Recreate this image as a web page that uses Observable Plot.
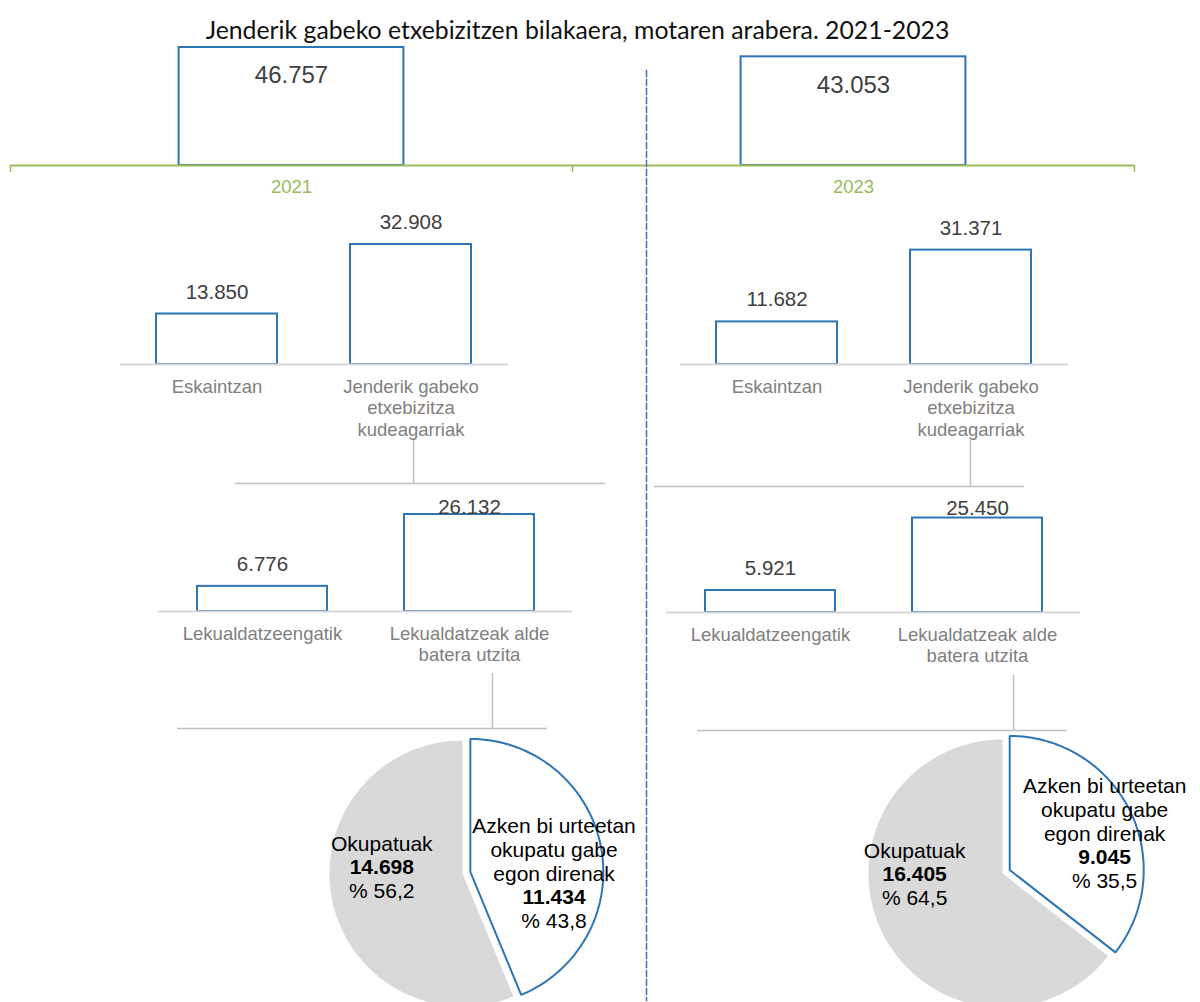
<!DOCTYPE html>
<html><head><meta charset="utf-8">
<script src="https://cdn.jsdelivr.net/npm/d3@7"></script>
<script src="https://cdn.jsdelivr.net/npm/@observablehq/plot@0.6"></script>
<style>
body{margin:0;background:#fff}
#page{position:relative;width:1200px;height:1002px;overflow:hidden;background:#fff;font-family:"Liberation Sans",Arial,sans-serif}
#page svg{position:absolute;left:0;top:0;overflow:visible;pointer-events:none}
#title{position:absolute;top:15px;left:0;width:1155px;text-align:center;font-family:Lato,sans-serif;font-size:24.8px;color:#111;white-space:nowrap;line-height:30px}
</style></head><body>
<div id="page"><div id="title">Jenderik gabeko etxebizitzen bilakaera, motaren arabera. 2021-2023</div></div>
<script>
// ---------- data ----------
const years = ["2021", "2023"];
const totals = [46757, 43053];
const level1Cats = ["Eskaintzan", "Jenderik gabeko\netxebizitza\nkudeagarriak"];
const level1_2021 = [13850, 32908];
const level1_2023 = [11682, 31371];
const level2Cats = ["Lekualdatzeengatik", "Lekualdatzeak alde\nbatera utzita"];
const level2_2021 = [6776, 26132];
const level2_2023 = [5921, 25450];
const pieCats = ["Azken bi urteetan\nokupatu gabe\negon direnak", "Okupatuak"];
const pie_2021 = [11434, 14698];
const pie_2023 = [9045, 16405];

// ---------- style ----------
const W = 1200, H = 1002;
const BLUE = "#2e75b6", GREEN = "#9bbb59", AXISGRAY = "#d9d9d9", LINKGRAY = "#bfbfbf";
const LABELGRAY = "#808080", VALUE = "#404040";
const loc = d3.formatLocale({decimal: ",", thousands: ".", grouping: [3], currency: ["", ""]});
const fmt = loc.format(",d");
const fmtPct = loc.format(".1f");
const page = document.getElementById("page");

function layer(opts) {
  const svg = Plot.plot({
    width: W, height: opts.height ?? H,
    style: {background: "transparent", overflow: "visible", fontFamily: "'Liberation Sans', Arial, sans-serif"},
    ...opts
  });
  page.appendChild(svg);
  return svg;
}

// ---------- top level: totals ----------
{
  const data = years.map((year, i) => ({year, i, value: totals[i]}));
  const base = 165, ppu = 118 / 46757, yTop = 50000;
  layer({
    marginLeft: 10, marginRight: W - 1134, marginBottom: H - base, marginTop: base - yTop * ppu,
    x: {type: "linear", domain: [0, years.length]},
    y: {domain: [0, yTop], axis: null},
    marks: [
      Plot.rectY(data, {x1: d => d.i + 0.3, x2: d => d.i + 0.7, y: "value", fill: "white", stroke: BLUE, strokeWidth: 2}),
      Plot.text(data, {x: d => d.i + 0.5, y: "value", text: d => fmt(d.value), dy: 28, fontSize: 24, fill: VALUE}),
      Plot.ruleY([0], {stroke: GREEN, strokeWidth: 2}),
      Plot.axisX({ticks: d3.range(years.length + 1), tickFormat: () => "", tickSize: 7, stroke: GREEN, strokeWidth: 1.5, label: null}),
      Plot.text(data, {x: d => d.i + 0.5, y: 0, text: "year", dy: 22, fontSize: 18.5, fill: GREEN})
    ]
  });
}

// ---------- bar panels ----------
function barPanel({cats, values, x0, x1, base, ppu, yTop, padding}) {
  const data = cats.map((cat, i) => ({cat, value: values[i]}));
  const off = 22 / ppu;
  layer({
    marginLeft: x0, marginRight: W - x1, marginBottom: H - base, marginTop: base - yTop * ppu,
    x: {type: "band", domain: cats, paddingInner: padding, paddingOuter: padding / 2, axis: null},
    y: {domain: [0, yTop], axis: null},
    marks: [
      Plot.barY(data, {x: "cat", y: "value", fill: "white", stroke: BLUE, strokeWidth: 2}),
      Plot.ruleY([0], {stroke: AXISGRAY, strokeWidth: 2}),
      Plot.text(data, {x: "cat", y: d => Math.min(d.value + off, yTop), text: d => fmt(d.value), fontSize: 20.5, fill: VALUE}),
      Plot.text(data, {x: "cat", y: 0, text: "cat", lineAnchor: "top", dy: 13, fontSize: 18.5, lineHeight: 1.16, fill: LABELGRAY})
    ]
  });
}
barPanel({cats: level1Cats, values: level1_2021, x0: 120, x1: 508, base: 364, ppu: 120 / 32908, yTop: 40000, padding: 0.376});
barPanel({cats: level1Cats, values: level1_2023, x0: 680, x1: 1068, base: 364, ppu: 120 / 32908, yTop: 40000, padding: 0.376});
barPanel({cats: level2Cats, values: level2_2021, x0: 158, x1: 572, base: 611, ppu: 97 / 26132, yTop: 28000, padding: 0.372});
barPanel({cats: level2Cats, values: level2_2023, x0: 666, x1: 1080, base: 612, ppu: 97 / 26132, yTop: 28000, padding: 0.372});

// ---------- connectors (layout decoration, page coordinates) ----------
{
  const vLinks = [{x: 413, y1: 440, y2: 483}, {x: 492, y1: 673, y2: 728}, {x: 970, y1: 440, y2: 486}, {x: 1013, y1: 675, y2: 730}];
  const hLinks = [{y: 483, x1: 235, x2: 605}, {y: 728, x1: 177, x2: 547}, {y: 486, x1: 654, x2: 1024}, {y: 730, x1: 697, x2: 1067}];
  layer({
    margin: 0,
    x: {domain: [0, W], range: [0, W], axis: null},
    y: {domain: [0, H], range: [0, H], axis: null},
    marks: [
      Plot.ruleX(vLinks, {x: "x", y1: "y1", y2: "y2", stroke: LINKGRAY, strokeWidth: 1.5}),
      Plot.ruleY(hLinks, {y: "y", x1: "x1", x2: "x2", stroke: LINKGRAY, strokeWidth: 1.5})
    ]
  });
}

// ---------- separator ----------
layer({
  marginLeft: 646, marginRight: 0, marginTop: 70, marginBottom: 2,
  x: {axis: null}, y: {axis: null},
  marks: [Plot.frame({anchor: "left", stroke: "#4472c4", strokeWidth: 1.5, strokeDasharray: "6,3"})]
});

// ---------- pies ----------
function piePanel({values, cx, cy, r, nudge}) {
  const total = d3.sum(values);
  const arcs = d3.pie().sort(null)(values);
  const explode = 0.06, steps = 160, lr = 0.68;
  const LH = 24;
  const slices = arcs.map((a, k) => {
    const mid = (a.startAngle + a.endAngle) / 2;
    const ex = k === 0 ? explode : 0;
    const ox = Math.sin(mid) * ex, oy = Math.cos(mid) * ex;
    const pts = [{x: ox, y: oy}];
    for (let s = 0; s <= steps; ++s) {
      const t = a.startAngle + (a.endAngle - a.startAngle) * s / steps;
      pts.push({x: ox + Math.sin(t), y: oy + Math.cos(t)});
    }
    pts.push({x: ox, y: oy});
    const nLines = pieCats[k].split("\n").length;
    return {
      pts, name: pieCats[k], value: values[k], pct: values[k] / total * 100,
      lx: ox + Math.sin(mid) * lr, ly: oy + Math.cos(mid) * 0.232 + 0.07,
      ndx: nudge[k][0], ndy: nudge[k][1],
      nLines, half: (nLines + 1) / 2
    };
  });
  const hh = 1020;
  layer({
    height: hh,
    marginLeft: cx - r, marginRight: W - (cx + r), marginTop: cy - r, marginBottom: hh - (cy + r),
    x: {domain: [-1, 1], axis: null},
    y: {domain: [-1, 1], axis: null},
    marks: [
      Plot.line(slices[1].pts, {x: "x", y: "y", fill: "#d9d9d9", stroke: "none"}),
      Plot.line(slices[0].pts, {x: "x", y: "y", fill: "white", stroke: BLUE, strokeWidth: 2, strokeLinejoin: "miter"}),
      ...slices.map(b => Plot.text([b], {x: "lx", y: "ly", text: "name", lineAnchor: "middle", lineHeight: LH / 21, dx: b.ndx, dy: b.ndy + ((b.nLines - 1) / 2 - b.half) * LH, fontSize: 21, fill: "#000"})),
      ...slices.map(b => Plot.text([b], {x: "lx", y: "ly", text: d => fmt(d.value), dx: b.ndx, dy: b.ndy + (b.nLines - b.half) * LH, fontSize: 21, fontWeight: "bold", fill: "#000"})),
      ...slices.map(b => Plot.text([b], {x: "lx", y: "ly", text: d => "% " + fmtPct(d.pct), dx: b.ndx, dy: b.ndy + (b.nLines + 1 - b.half) * LH, fontSize: 21, fill: "#000"}))
    ]
  });
}
piePanel({values: pie_2021, cx: 462, cy: 873, r: 133, nudge: [[-5, 17], [8, -3]]});
piePanel({values: pie_2023, cx: 1002, cy: 873, r: 134, nudge: [[13, -14], [-6, -3]]});
</script>
</body></html>
